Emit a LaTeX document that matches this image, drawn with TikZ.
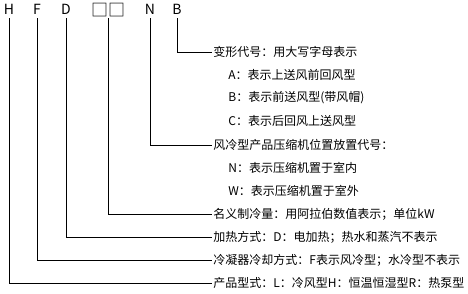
\documentclass[tikz,border=0pt]{standalone}
\usepackage{fontspec}
\setmainfont{Noto Sans CJK SC}
\usepackage{tikz}
\usetikzlibrary{positioning}

\begin{document}
\begin{tikzpicture}[x=1pt,y=1pt,line width=0.8pt,
      code/.style={font=\fontsize{14}{14}\selectfont,inner sep=2pt,text height=10pt,text depth=2pt},
      desc/.style={font=\fontsize{12}{12}\selectfont,anchor=west,inner sep=1pt},
      sub/.style={desc}]
      \useasboundingbox (0,0) rectangle (468,-293);
      % model code letters
      \node[code] (cH) at (9,-10) {H};
      \node[code] (cF) at (37,-10) {F};
      \node[code] (cD) at (66,-10) {D};
      \node[code,font=\fontsize{17}{17}\selectfont,text height=12pt,text depth=1pt,inner sep=1pt] (cQ) at (108,-10.5) {□□};
      \node[code] (cN) at (150,-10) {N};
      \node[code] (cB) at (177,-10) {B};
      % meanings
      \node[desc] (dB) at (212,-52) {变形代号：用大写字母表示};
      \node[sub] (sA) at (227,-75) {A：表示上送风前回风型};
      \node[sub] (sB) at (227,-98) {B：表示前送风型(带风帽)};
      \node[sub] (sC) at (227,-121) {C：表示后回风上送风型};
      \node[desc] (dN) at (212,-145) {风冷型产品压缩机位置放置代号：};
      \node[sub] (sN) at (227,-168) {N：表示压缩机置于室内};
      \node[sub] (sW) at (227,-191) {W：表示压缩机置于室外};
      \node[desc] (dQ) at (212,-214) {名义制冷量：用阿拉伯数值表示；单位kW};
      \node[desc] (dD) at (212,-237) {加热方式：D：电加热；热水和蒸汽不表示};
      \node[desc] (dF) at (212,-260) {冷凝器冷却方式：F表示风冷型；水冷型不表示};
      \node[desc] (dH) at (212,-283) {产品型式：L：冷风型H：恒温恒湿型R：热泵型};
      \draw (cB.south) |- (dB.west);
      \draw (cN.south) |- (dN.west);
      \draw (cQ.south) |- (dQ.west);
      \draw (cD.south) |- (dD.west);
      \draw (cF.south) |- (dF.west);
      \draw (cH.south) |- (dH.west);
    \end{tikzpicture}
\end{document}
